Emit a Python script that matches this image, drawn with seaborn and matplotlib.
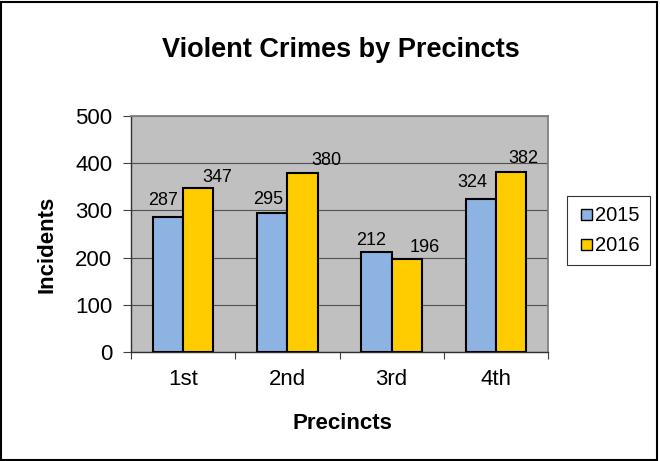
import matplotlib
matplotlib.use("Agg")
import matplotlib.pyplot as plt
import seaborn as sns
import pandas as pd
from matplotlib.patches import Rectangle
from matplotlib.legend_handler import HandlerPatch

precincts = ["1st", "2nd", "3rd", "4th"]
incidents_2015 = [287, 295, 212, 324]
incidents_2016 = [347, 380, 196, 382]
years = ["2015", "2016"]
colors = ["#8DB3E2", "#FFCC00"]

# label nudges in pixels (dx, gap above bar)
label_dx = [[-5, -4, -5, -8], [19, 24, 18, 12]]
label_gap = [[12, 9, 7, 12], [6, 8, 7, 9]]

df = pd.DataFrame({
    "Precinct": precincts * 2,
    "Year": [years[0]] * 4 + [years[1]] * 4,
    "Incidents": incidents_2015 + incidents_2016,
})

sns.set_style("white")
plt.rcParams["font.family"] = ["Liberation Sans", "DejaVu Sans"]
for k in ["text.color", "axes.labelcolor", "xtick.color", "ytick.color"]:
    plt.rcParams[k] = "black"

W, H = 660, 461
PX = 72 / 100  # points per pixel
fig = plt.figure(figsize=(6.6, 4.61), dpi=100)
ax = fig.add_axes([131/W, 1 - 352/H, (548-131)/W, (352-116)/H])
ax.set_facecolor("#C0C0C0")

sns.barplot(data=df, x="Precinct", y="Incidents", hue="Year", palette=colors,
            saturation=1, width=0.58, edgecolor="black", linewidth=1.5, ax=ax,
            zorder=3, legend=True)

ax.set_ylim(0, 500)
ax.set_yticks([0, 100, 200, 300, 400, 500])
ax.yaxis.grid(True, color="#505050", linewidth=0.8, zorder=0)
ax.set_axisbelow(True)
ax.set_xlim(-0.5, 3.5)
ax.set_xticks([-0.5, 0.5, 1.5, 2.5, 3.5], minor=False)
ax.set_xticklabels([])
ax.set_xticks(range(4), minor=True)
ax.set_xticklabels(precincts, minor=True, fontsize=16)
ax.tick_params(axis="x", which="major", length=5, width=0.8, direction="out",
               color="#404040", bottom=True)
ax.tick_params(axis="x", which="minor", length=0, pad=12.5)
ax.tick_params(axis="y", length=5.5, width=0.8, direction="out", color="#404040",
               left=True, labelsize=16, pad=8)

for ci, c in enumerate(ax.containers):
    for bi, (bar, v) in enumerate(zip(c.patches, c.datavalues)):
        ax.annotate(str(int(v)), (bar.get_x() + bar.get_width() / 2, bar.get_height()),
                    xytext=(label_dx[ci][bi] * PX, label_gap[ci][bi] * PX),
                    textcoords="offset points", ha="center", va="baseline",
                    fontsize=13, zorder=5)

for s in ["top", "right"]:
    ax.spines[s].set_color("#808080")
    ax.spines[s].set_linewidth(1.3)
for s in ["left", "bottom"]:
    ax.spines[s].set_color("#303030")
    ax.spines[s].set_linewidth(1)

ax.set_xlabel("Precincts", fontsize=16, fontweight="bold")
ax.xaxis.set_label_coords(342/W, 1 - 429/H, transform=fig.transFigure)
ax.xaxis.label.set_verticalalignment("baseline")
ax.set_ylabel("Incidents", fontsize=16, fontweight="bold")
ax.yaxis.set_label_coords(47/W, 1 - 244/H, transform=fig.transFigure)
ax.yaxis.label.set_horizontalalignment("center")
ax.yaxis.label.set_verticalalignment("center")

fig.text(341/W, 1 - 57/H, "Violent Crimes by Precincts", fontsize=19.5,
         fontweight="bold", ha="center", va="baseline")


def square_patch(legend, orig_handle, xdescent, ydescent, width, height, fontsize):
    side = 11 * PX
    return Rectangle((width - xdescent - side, -ydescent + (height - side) / 2), side, side)


handles, labels = ax.get_legend_handles_labels()
leg = ax.legend(handles, labels, loc="upper left", bbox_to_anchor=(567/W, 1 - 196/H),
                bbox_transform=fig.transFigure, frameon=True, fancybox=False,
                edgecolor="black", fontsize=14.5, handlelength=0.75, handleheight=0.7,
                handletextpad=0.15, borderpad=0.5, borderaxespad=0,
                labelspacing=0.55,
                handler_map={Rectangle: HandlerPatch(patch_func=square_patch)})
leg.get_frame().set_linewidth(0.8)
for h in leg.legend_handles:
    h.set_linewidth(1)
    h.set_edgecolor("black")

fig.patches.append(Rectangle((0.002, 0.002), 0.994, 0.994, transform=fig.transFigure,
                             fill=False, edgecolor="black", linewidth=1.5))

fig.savefig("out.png", dpi=100)
